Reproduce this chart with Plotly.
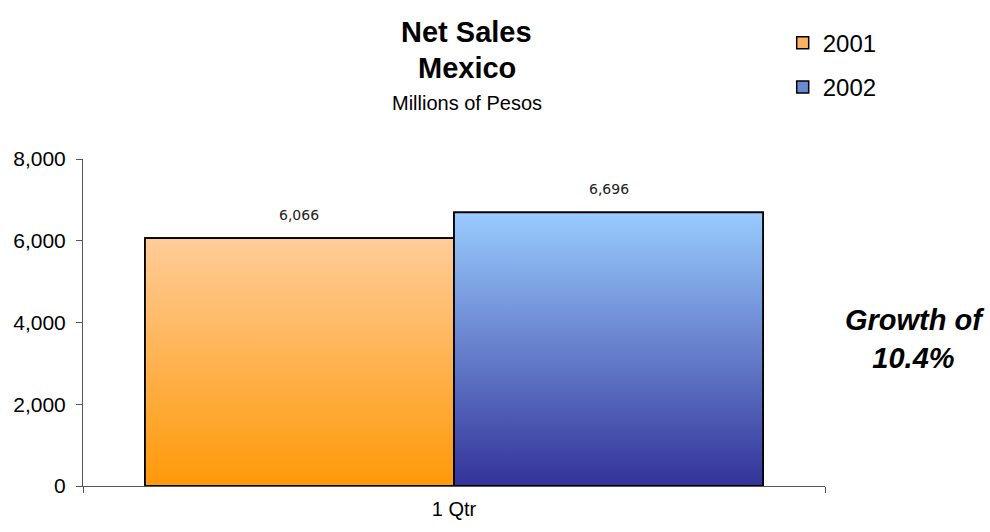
import plotly.graph_objects as go

categories = ["1 Qtr"]
years = ["2001", "2002"]
values_2001 = [6066]
values_2002 = [6696]
growth_label = "Growth of<br>10.4%"

series = [
    ("2001", values_2001, "#FFB060", "#FF9908", "#FFCC99"),
    ("2002", values_2002, "#6A8AD0", "#333399", "#99CCFF"),
]

BARGAP = 0.167
W = (1 - BARGAP) / 2
FONT = "Arial, Liberation Sans"

fig = go.Figure()
xpos = list(range(len(categories)))

for i, (name, vals, mid, bottom, top) in enumerate(series):
    fig.add_trace(go.Bar(
        x=xpos, y=vals, name=name,
        marker=dict(color=mid, line=dict(color="black", width=1.5)),
        legendgroup=name,
    ))

for i, (name, vals, mid, bottom, top) in enumerate(series):
    off = -W if i == 0 else 0.0
    for xc, v in zip(xpos, vals):
        x0 = xc + off
        x1 = x0 + W
        fig.add_trace(go.Scatter(
            x=[x0, x1, x1, x0, x0], y=[0, 0, v, v, 0],
            mode="lines", fill="toself",
            fillgradient=dict(type="vertical", colorscale=[[0, bottom], [1, top]]),
            line=dict(color="black", width=1.8),
            showlegend=False, hoverinfo="skip",
        ))
        fig.add_annotation(x=(x0 + x1) / 2, y=v, text=f"{v:,}", showarrow=False,
                           yshift=23, font=dict(size=14, color="#222", family="DejaVu Sans"))

titles = [("<b>Net Sales</b>", 30, 29), ("<b>Mexico</b>", 66, 29), ("Millions of Pesos", 102, 20)]
for txt, py, size in titles:
    fig.add_annotation(xref="paper", yref="paper", x=0.5175, y=(492 - py) / 333, text=txt,
                       xanchor="center", yanchor="middle",
                       showarrow=False, font=dict(size=size, family=FONT, color="black"))
fig.add_annotation(xref="paper", yref="paper", x=1.121, y=(492 - 342) / 333,
                   text=f"<b><i>{growth_label}</i></b>",
                   xanchor="center", yanchor="middle",
                   showarrow=False, font=dict(size=29, family=FONT, color="black"))

fig.update_layout(
    width=990, height=532,
    margin=dict(l=83, r=165, t=159, b=40),
    plot_bgcolor="white", paper_bgcolor="white",
    barmode="group", bargap=BARGAP, bargroupgap=0,
    font=dict(family=FONT, color="black"),
    showlegend=True,
    legend=dict(x=0.943, y=1.423, xanchor="left", yanchor="top",
                font=dict(size=24), traceorder="grouped", tracegroupgap=10,
                itemwidth=30, bgcolor="rgba(0,0,0,0)"),
    xaxis=dict(range=[-0.5, 0.5], tickvals=xpos, ticktext=categories, ticks="",
               showline=True, linecolor="#555", linewidth=1, showgrid=False, zeroline=False,
               tickfont=dict(size=20), ticklabelstandoff=5,
               minor=dict(ticks="outside", tick0=-0.5, dtick=1, ticklen=6, tickcolor="#555")),
    yaxis=dict(range=[0, 8000], dtick=2000, tickformat=",", ticks="outside", ticklen=6,
               tickcolor="#555", showline=True, linecolor="#555", linewidth=1,
               showgrid=False, zeroline=False, tickfont=dict(size=21), ticklabelstandoff=6),
)

fig.write_html("out.html")
